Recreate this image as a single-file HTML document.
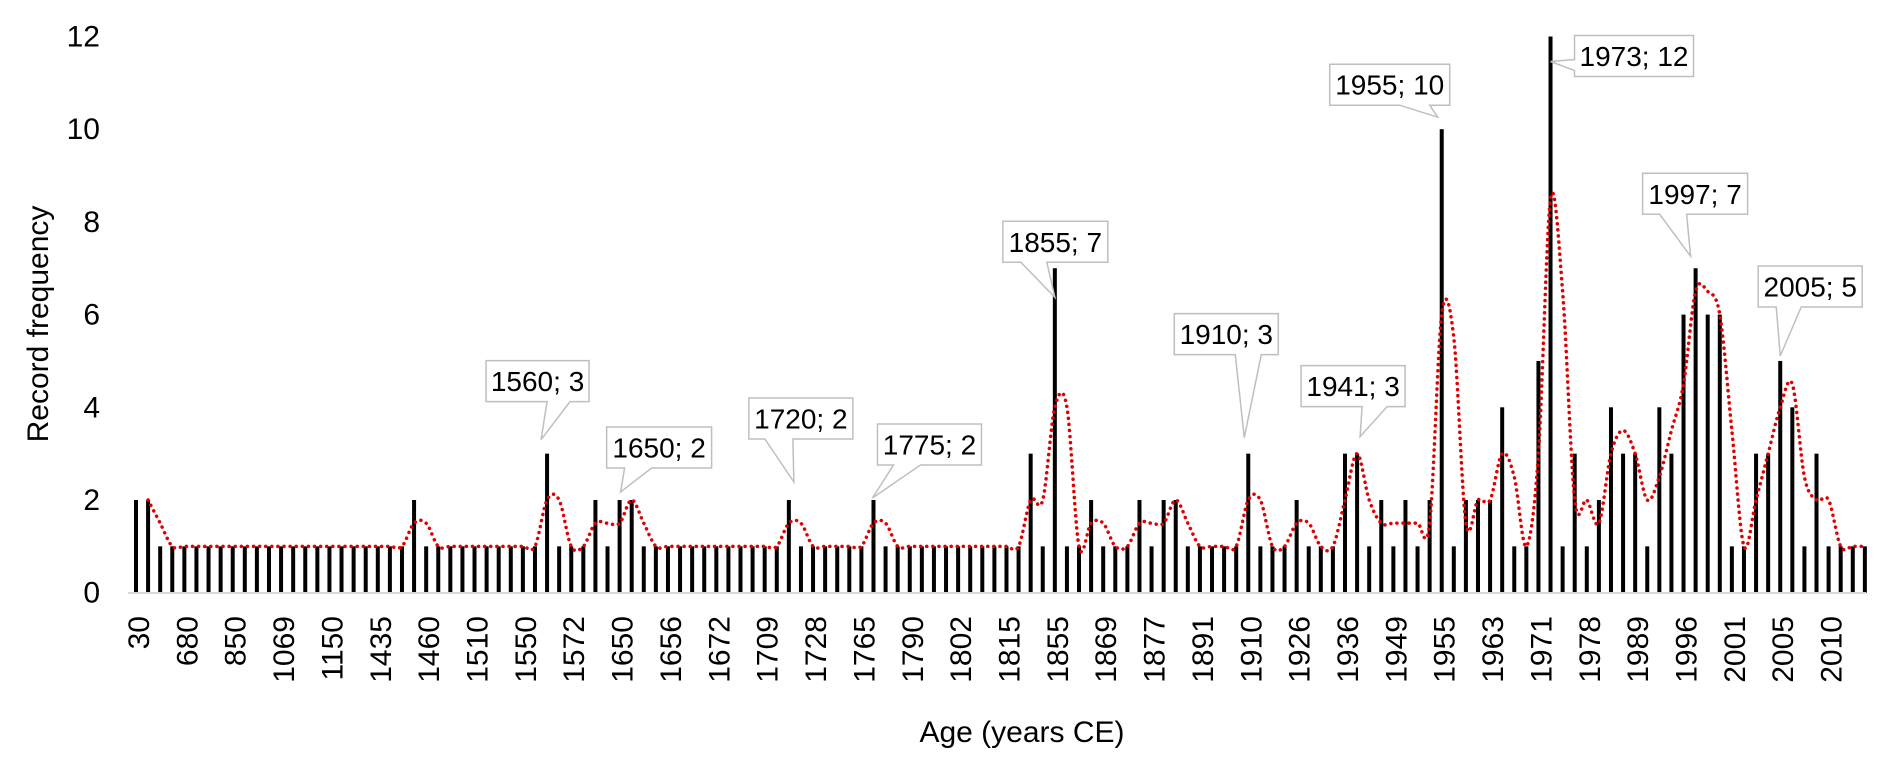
<!DOCTYPE html>
<html><head><meta charset="utf-8"><style>
html,body{margin:0;padding:0;background:#fff;}
svg{display:block;font-family:"Liberation Sans",Arial,sans-serif;}
</style></head><body>
<svg id="chart" width="1892" height="775" viewBox="0 0 1892 775" xmlns="http://www.w3.org/2000/svg">
<rect width="1892" height="775" fill="#fff"/>
<text x="48" y="324" font-size="30" text-anchor="middle" transform="rotate(-90 48 324)" fill="#000">Record frequency</text>
<text x="1022" y="742" font-size="30" text-anchor="middle" fill="#000">Age (years CE)</text>
<g id="yticks"></g>
<g id="bars"></g>
<line x1="128" y1="593" x2="1866" y2="593" stroke="#d9d9d9" stroke-width="2"/>
<g id="xticks"></g>
<path id="ma" fill="none" stroke="#e00000" stroke-width="3.5" stroke-dasharray="0.1 6" stroke-linecap="round"/>
<g id="anns"></g>
</svg>
<script>
const frequencies = [2,2,1,1,1,1,1,1,1,1,1,1,1,1,1,1,1,1,1,1,1,1,1,2,1,1,1,1,1,1,1,1,1,1,3,1,1,1,2,1,2,2,1,1,1,1,1,1,1,1,1,1,1,1,2,1,1,1,1,1,1,2,1,1,1,1,1,1,1,1,1,1,1,1,3,1,7,1,1,2,1,1,1,2,1,2,2,1,1,1,1,1,3,1,1,1,2,1,1,1,3,3,1,2,1,2,1,2,10,1,2,2,2,4,1,1,5,12,1,3,1,2,4,3,3,1,4,3,6,7,6,6,1,1,3,3,5,4,1,3,1,1,1,1];
const tickLabels = ["30","680","850","1069","1150","1435","1460","1510","1550","1572","1650","1656","1672","1709","1728","1765","1790","1802","1815","1855","1869","1877","1891","1910","1926","1936","1949","1955","1963","1971","1978","1989","1996","2001","2005","2010"];
const yTicks = [0,2,4,6,8,10,12];
const annIndex = [34,40,54,61,76,92,101,108,117,129,136];
const annText = ["1560; 3","1650; 2","1720; 2","1775; 2","1855; 7","1910; 3","1941; 3","1955; 10","1973; 12","1997; 7","2005; 5"];

const NS="http://www.w3.org/2000/svg";
const X0=136, STEP=12.09, BASE=592.7, UNIT=46.35;
const xS=i=>X0+i*STEP;
const yS=v=>BASE-v*UNIT;
function mk(tag,attrs,parent){const e=document.createElementNS(NS,tag);for(const k in attrs)e.setAttribute(k,attrs[k]);parent.appendChild(e);return e;}

const yg=document.getElementById('yticks');
yTicks.forEach(v=>{
  const t=mk('text',{x:100,y:yS(v)+10,'font-size':30,'text-anchor':'end',fill:'#000'},yg);
  
  
  t.textContent=v;
});

const bg=document.getElementById('bars');
frequencies.forEach((v,i)=>{
  const r=mk('rect',{x:xS(i)-2,y:yS(v),width:4,height:BASE-yS(v),fill:'#000'},bg);
  
  
});

const xg=document.getElementById('xticks');
tickLabels.forEach((s,k)=>{
  const x=xS(k*4)+13, y=616;
  const t=mk('text',{x:x,y:y,'font-size':30,'text-anchor':'end',fill:'#000',transform:`rotate(-90 ${x} ${y})`},xg);
  
  
  t.textContent=s;
});

const pts=[];
for(let i=1;i<frequencies.length;i++){pts.push([xS(i),yS((frequencies[i-1]+frequencies[i])/2)]);}
let d=`M${pts[0][0]},${pts[0][1]}`;
for(let i=0;i<pts.length-1;i++){
  const p0=pts[Math.max(0,i-1)],p1=pts[i],p2=pts[i+1],p3=pts[Math.min(pts.length-1,i+2)];
  const c1=[p1[0]+(p2[0]-p0[0])/6,p1[1]+(p2[1]-p0[1])/6];
  const c2=[p2[0]-(p3[0]-p1[0])/6,p2[1]-(p3[1]-p1[1])/6];
  d+=` C${c1[0]},${c1[1]} ${c2[0]},${c2[1]} ${p2[0]},${p2[1]}`;
}
document.getElementById('ma').setAttribute('d',d);

const annLayout=[
 [-61,-52,103,0,23,-6,-14],
 [-13,-32,105,5,32,1,-8],
 [-40,-61,104,-24,4,5,-18],
 [4,-35,104,20,47,-1,-2],
 [-52,-6,105,-34,-8,0,29],
 [-74,-99,104,-13,13,-4,-16],
 [-56,-47,104,5,30,3,-17],
 [-112,-24,120,-42,-12,-4,-12],
 [24,40,119,0,0,0,25],
 [-53,-54,105,-36,-9,-5,-12],
 [-22,-54,104,-4,21,0,-5]
];
const ag=document.getElementById('anns');
annIndex.forEach((bi,k)=>{
  const L=annLayout[k], bx=xS(bi), top=yS(frequencies[bi]);
  const g=mk('g',{},ag);
  
  
  const h=41, left=bx+L[0], bottom=top+L[1], tp=bottom-h, right=left+L[2];
  let path;
  if(k===8){
    const ty=top+L[6];
    path=`M${left},${tp} L${right},${tp} L${right},${bottom} L${left},${bottom} L${left},${bottom-6} L${bx},${ty} L${left},${bottom-17} Z`;
  } else {
    const tx=bx+L[5], ty=top+L[6];
    path=`M${left},${tp} L${right},${tp} L${right},${bottom} L${bx+L[4]},${bottom} L${tx},${ty} L${bx+L[3]},${bottom} L${left},${bottom} Z`;
  }
  mk('path',{d:path,fill:'#fff',stroke:'#bfbfbf','stroke-width':1.5},g);
  const t=mk('text',{x:(left+right)/2,y:tp+h/2+10,'font-size':28,'text-anchor':'middle',fill:'#000'},g);
  
  
  t.textContent=annText[k];
});
</script>
</body></html>
